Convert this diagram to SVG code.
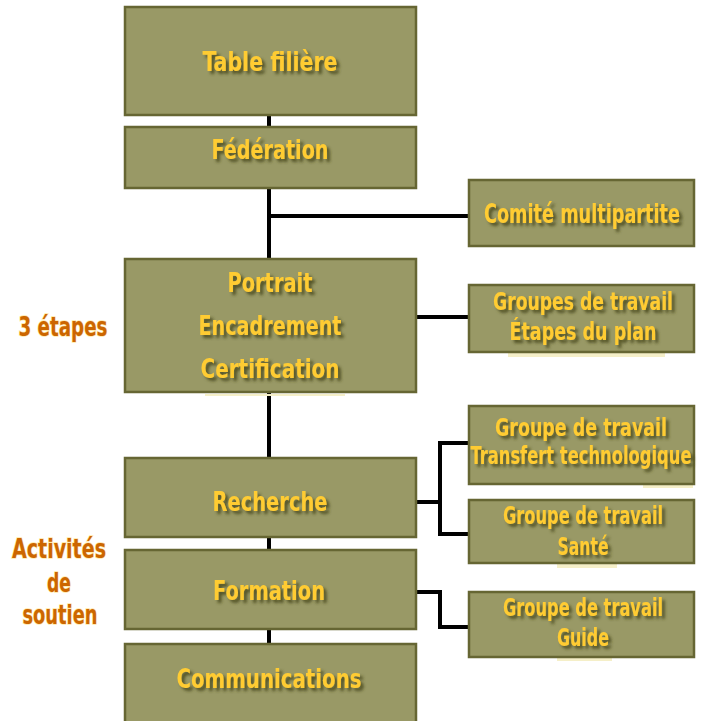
<svg xmlns="http://www.w3.org/2000/svg" width="706" height="721" viewBox="0 0 706 721">
<defs>
<filter id="sh" x="-10%" y="-30%" width="130%" height="170%">
<feGaussianBlur in="SourceAlpha" stdDeviation="1.6" result="b"/>
<feOffset in="b" dx="3" dy="3" result="o"/>
<feFlood flood-color="#4a4a1e" flood-opacity="0.9"/>
<feComposite in2="o" operator="in" result="s"/>
<feMerge><feMergeNode in="s"/><feMergeNode in="SourceGraphic"/></feMerge>
</filter>
</defs>
<style>
.box{fill:#999966;stroke:#666633;stroke-width:2.5}
.t{font-family:"Liberation Sans Narrow","DejaVu Sans Condensed","DejaVu Sans",sans-serif;font-stretch:condensed;font-weight:bold;font-size:27px;fill:#FFCC33;text-anchor:middle;filter:url(#sh)}
.s{font-size:25px}
.lab{font-family:"Liberation Sans Narrow","DejaVu Sans Condensed","DejaVu Sans",sans-serif;font-stretch:condensed;font-weight:bold;font-size:27px;fill:#CC6600;stroke:#FFE9A8;stroke-width:1.5;paint-order:stroke;text-anchor:middle}
.c{fill:none;stroke:#000;stroke-width:4}
.art{fill:#F5EFC8}
</style>
<rect width="706" height="721" fill="#fff"/>
<g id="connectors">
<line class="c" x1="269" y1="110" x2="269" y2="650"/>
<line class="c" x1="269" y1="216" x2="470" y2="216"/>
<line class="c" x1="415" y1="317" x2="470" y2="317"/>
<polyline class="c" points="415,502 440,502"/>
<polyline class="c" points="470,443 440,443 440,534 470,534"/>
<polyline class="c" points="415,592 440,592 440,627 470,627"/>
</g>
<g id="artifacts">
<rect class="art" x="205" y="394" width="140" height="2"/>
<rect class="art" x="508" y="353" width="157" height="4"/>
<rect class="art" x="643" y="485" width="50" height="3"/>
<rect class="art" x="557" y="564" width="60" height="4"/>
<rect class="art" x="557" y="658" width="55" height="3"/>
</g>
<g id="table-filiere">
<rect class="box" x="125" y="7" width="291" height="108"/>
<text class="t" x="270" y="71" textLength="135" lengthAdjust="spacingAndGlyphs">Table filière</text>
</g>
<g id="federation">
<rect class="box" x="125" y="127" width="291" height="61"/>
<text class="t" x="270" y="159" textLength="117" lengthAdjust="spacingAndGlyphs">Fédération</text>
</g>
<g id="comite">
<rect class="box" x="469" y="180" width="225" height="66"/>
<text class="t" x="582" y="223" textLength="196" lengthAdjust="spacingAndGlyphs">Comité multipartite</text>
</g>
<g id="etapes-box">
<rect class="box" x="125" y="259" width="291" height="133"/>
<text class="t" x="270" y="292" textLength="85" lengthAdjust="spacingAndGlyphs">Portrait</text>
<text class="t" x="270" y="335" textLength="143" lengthAdjust="spacingAndGlyphs">Encadrement</text>
<text class="t" x="270" y="378" textLength="139" lengthAdjust="spacingAndGlyphs">Certification</text>
</g>
<g id="groupes-etapes">
<rect class="box" x="469" y="285" width="225" height="67"/>
<text class="t s" x="583" y="310" textLength="180" lengthAdjust="spacingAndGlyphs">Groupes de travail</text>
<text class="t s" x="583" y="340" textLength="147" lengthAdjust="spacingAndGlyphs">Étapes du plan</text>
</g>
<g id="label-etapes">
<text class="lab" x="63" y="336" textLength="89" lengthAdjust="spacingAndGlyphs">3 étapes</text>
</g>
<g id="transfert">
<rect class="box" x="469" y="406" width="225" height="78"/>
<text class="t s" x="581" y="436" textLength="172" lengthAdjust="spacingAndGlyphs">Groupe de travail</text>
<text class="t s" x="581" y="464" textLength="221" lengthAdjust="spacingAndGlyphs">Transfert technologique</text>
</g>
<g id="sante">
<rect class="box" x="469" y="500" width="225" height="63"/>
<text class="t s" x="583" y="524" textLength="160" lengthAdjust="spacingAndGlyphs">Groupe de travail</text>
<text class="t s" x="583" y="555" textLength="51" lengthAdjust="spacingAndGlyphs">Santé</text>
</g>
<g id="guide">
<rect class="box" x="469" y="592" width="225" height="65"/>
<text class="t s" x="583" y="616" textLength="160" lengthAdjust="spacingAndGlyphs">Groupe de travail</text>
<text class="t s" x="583" y="646" textLength="52" lengthAdjust="spacingAndGlyphs">Guide</text>
</g>
<g id="recherche">
<rect class="box" x="125" y="458" width="291" height="79"/>
<text class="t" x="270" y="511" textLength="115" lengthAdjust="spacingAndGlyphs">Recherche</text>
</g>
<g id="formation">
<rect class="box" x="125" y="550" width="291" height="79"/>
<text class="t" x="269" y="600" textLength="112" lengthAdjust="spacingAndGlyphs">Formation</text>
</g>
<g id="communications">
<rect class="box" x="125" y="644" width="291" height="80"/>
<text class="t" x="269" y="688" textLength="185" lengthAdjust="spacingAndGlyphs">Communications</text>
</g>
<g id="label-activites">
<text class="lab" x="59" y="558" textLength="94" lengthAdjust="spacingAndGlyphs">Activités</text>
<text class="lab" x="59" y="592" textLength="24" lengthAdjust="spacingAndGlyphs">de</text>
<text class="lab" x="60" y="624" textLength="75" lengthAdjust="spacingAndGlyphs">soutien</text>
</g>
</svg>
